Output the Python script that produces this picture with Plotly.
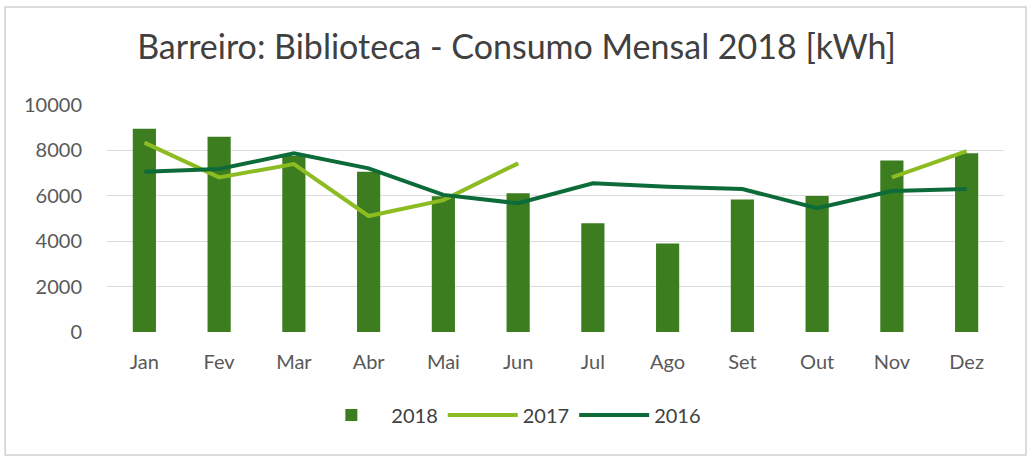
import plotly.graph_objects as go

months = ["Jan", "Fev", "Mar", "Abr", "Mai", "Jun", "Jul", "Ago", "Set", "Out", "Nov", "Dez"]
v2018 = [8950, 8600, 7750, 7060, 5980, 6110, 4790, 3900, 5840, 5990, 7550, 7870]
v2017 = [8340, 6810, 7400, 5110, 5810, 7430, None, None, None, None, 6810, 7970]
v2016 = [7060, 7180, 7870, 7210, 6040, 5670, 6550, 6400, 6300, 5450, 6210, 6300]
yticks = [0, 2000, 4000, 6000, 8000, 10000]

fig = go.Figure()
fig.add_trace(go.Bar(x=months, y=v2018, name="2018", marker=dict(color="#3b7d1f", line=dict(width=0))))
fig.add_trace(go.Scatter(x=months, y=v2017, name="2017", mode="lines",
                         line=dict(color="#8dbb22", width=4), connectgaps=False))
fig.add_trace(go.Scatter(x=months, y=v2016, name="2016", mode="lines",
                         line=dict(color="#0d6b3a", width=4)))

fig.update_layout(
    width=1033, height=461,
    margin=dict(l=107, r=29, t=105, b=129),
    paper_bgcolor="white", plot_bgcolor="white",
    font=dict(family="Lato, Open Sans, sans-serif", color="#595959", size=20),
    title=dict(text="Barreiro: Biblioteca - Consumo Mensal 2018 [kWh]", x=0.5, xanchor="center",
               y=0.897, yanchor="middle", font=dict(size=34, color="#404040")),
    bargap=0.69,
    showlegend=True,
    legend=dict(orientation="h", x=0.448, xanchor="center", y=-0.366, yanchor="middle",
                font=dict(size=20, color="#404040"), traceorder="normal", itemwidth=70),
    xaxis=dict(showgrid=False, showline=False, ticks="", tickfont=dict(size=20),
               ticklabelstandoff=16),
    yaxis=dict(range=[0, 10000], tickvals=yticks, tickformat="d", showgrid=True, gridcolor="#dcdcdc",
               gridwidth=1, zeroline=False, showline=False, ticks="", tickfont=dict(size=20),
               ticklabelstandoff=24),
    shapes=[dict(type="rect", xref="paper", yref="paper", x0=-0.1136, x1=1.0245, y0=-0.542, y1=1.432,
                 line=dict(color="#d0d0d0", width=1.5))],
)

fig.write_html("out.html", config={"displayModeBar": False},
               post_script="document.body.style.margin='0';")
